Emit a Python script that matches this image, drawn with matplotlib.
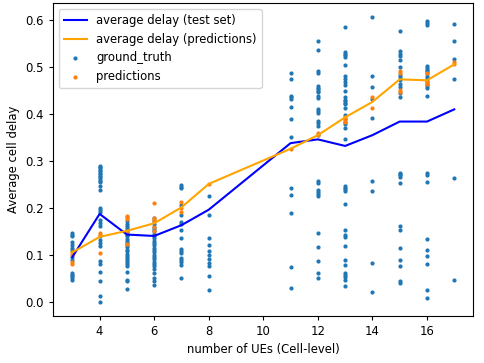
import matplotlib
matplotlib.use('Agg')
import matplotlib.pyplot as plt
import numpy as np

plt.rcParams['font.size'] = 8.4
plt.rcParams['xtick.major.size'] = 3.0
plt.rcParams['ytick.major.size'] = 3.0

# ground truth delays per number of UEs
gt = {
    3: [0.146, 0.143, 0.139, 0.128, 0.121, 0.114, 0.111, 0.096, 0.089, 0.061, 0.057, 0.054, 0.050, 0.047],
    4: [0.290, 0.287, 0.284, 0.281, 0.278, 0.275, 0.272, 0.268, 0.265, 0.262, 0.258, 0.256, 0.247, 0.238,
        0.199, 0.196, 0.192, 0.174, 0.167, 0.162, 0.139, 0.132, 0.125, 0.118, 0.086, 0.081, 0.064, 0.043,
        0.011, 0.0],
    5: [0.171, 0.166, 0.162, 0.157, 0.153, 0.148, 0.143, 0.139, 0.134, 0.130, 0.125, 0.120, 0.116, 0.111,
        0.107, 0.102, 0.098, 0.093, 0.089, 0.085, 0.080, 0.075, 0.064, 0.047, 0.043, 0.027],
    6: [0.178, 0.172, 0.165, 0.160, 0.155, 0.150, 0.145, 0.140, 0.135, 0.130, 0.125, 0.120, 0.115, 0.110,
        0.105, 0.100, 0.095, 0.090, 0.085, 0.080, 0.075, 0.070, 0.060, 0.050, 0.043, 0.036],
    7: [0.249, 0.245, 0.242, 0.206, 0.185, 0.169, 0.166, 0.152, 0.136, 0.112, 0.107, 0.104, 0.093, 0.089,
        0.084, 0.079, 0.050],
    8: [0.226, 0.184, 0.135, 0.120, 0.108, 0.100, 0.091, 0.083, 0.076, 0.054, 0.025],
    11: [0.487, 0.474, 0.439, 0.436, 0.432, 0.416, 0.390, 0.351, 0.243, 0.228, 0.189, 0.073, 0.030],
    12: [0.555, 0.536, 0.491, 0.488, 0.460, 0.456, 0.453, 0.449, 0.446, 0.438, 0.435, 0.410, 0.406, 0.403,
         0.385, 0.380, 0.374, 0.355, 0.257, 0.254, 0.237, 0.233, 0.230, 0.226, 0.147, 0.116, 0.086, 0.062,
         0.051],
    13: [0.586, 0.533, 0.529, 0.526, 0.522, 0.504, 0.481, 0.474, 0.469, 0.463, 0.449, 0.436, 0.431, 0.428,
         0.424, 0.421, 0.412, 0.398, 0.389, 0.384, 0.378, 0.370, 0.346, 0.247, 0.243, 0.240, 0.236, 0.209,
         0.153, 0.143, 0.137, 0.118, 0.088, 0.079, 0.062, 0.057, 0.053, 0.047, 0.033],
    14: [0.606, 0.481, 0.457, 0.432, 0.392, 0.258, 0.235, 0.082, 0.020],
    15: [0.577, 0.534, 0.529, 0.523, 0.515, 0.501, 0.483, 0.478, 0.472, 0.465, 0.457, 0.445, 0.437, 0.275,
         0.272, 0.269, 0.265, 0.254, 0.162, 0.153, 0.114, 0.089, 0.077, 0.043, 0.040],
    16: [0.599, 0.595, 0.591, 0.502, 0.499, 0.495, 0.491, 0.487, 0.481, 0.476, 0.470, 0.465, 0.460, 0.455,
         0.439, 0.274, 0.270, 0.255, 0.133, 0.111, 0.098, 0.080, 0.024, 0.008],
    17: [0.593, 0.556, 0.518, 0.474, 0.264, 0.047],
}

# model predictions per number of UEs
pred = {
    3: [0.105, 0.100, 0.085, 0.081],
    4: [0.147, 0.142, 0.104],
    5: [0.183, 0.180, 0.176, 0.150, 0.123],
    6: [0.210, 0.178, 0.174, 0.171, 0.160, 0.150],
    7: [0.212, 0.199, 0.192],
    8: [0.251],
    11: [0.326],
    12: [0.355, 0.360],
    13: [0.394, 0.389, 0.384],
    14: [0.436, 0.413],
    15: [0.492, 0.488, 0.451, 0.447],
    16: [0.487, 0.469, 0.465],
    17: [0.506, 0.510],
}

n_ues = [3, 4, 5, 6, 7, 8, 11, 12, 13, 14, 15, 16, 17]
avg_test = [0.095, 0.187, 0.143, 0.140, 0.163, 0.196, 0.338, 0.346, 0.332, 0.355, 0.384, 0.384, 0.410]
avg_pred = [0.105, 0.138, 0.151, 0.167, 0.201, 0.251, 0.326, 0.355, 0.393, 0.426, 0.474, 0.472, 0.506]

gx = [k for k, v in gt.items() for _ in v]
gy = [y for v in gt.values() for y in v]
px = [k for k, v in pred.items() for _ in v]
py = [y for v in pred.values() for y in v]

fig = plt.figure(figsize=(4.84, 3.63), dpi=100)
ax = fig.add_axes([0.110, 0.130, 0.868, 0.861])

ax.plot(n_ues, avg_test, color='blue', label='average delay (test set)')
ax.plot(n_ues, avg_pred, color='orange', label='average delay (predictions)')
ax.scatter(gx, gy, s=4, color='tab:blue', label='ground_truth')
ax.scatter(px, py, s=4, color='tab:orange', label='predictions')

ax.set_xlabel('number of UEs (Cell-level)')
ax.set_ylabel('Average cell delay')
ax.legend(loc='upper left')

fig.savefig('out.png', dpi=100)
